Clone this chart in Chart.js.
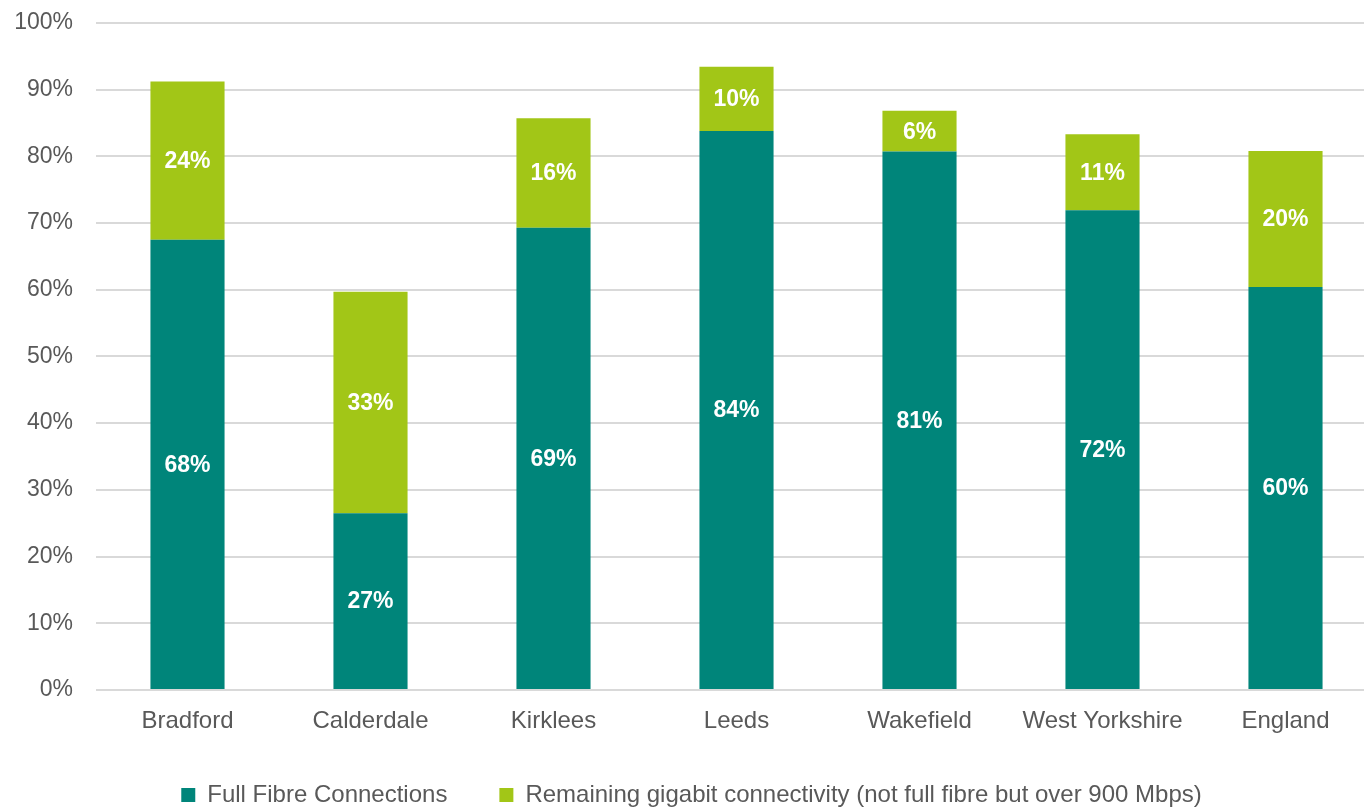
<!DOCTYPE html>
<html>
<head>
<meta charset="utf-8">
<script src="https://cdn.jsdelivr.net/npm/chart.js@4/dist/chart.umd.min.js"></script>
<style>
  html, body { margin: 0; padding: 0; background: #ffffff; overflow: hidden; }
  #wrap { position: relative; width: 1377px; height: 836px; margin-top: -14px; }
</style>
</head>
<body>
<div id="wrap"><canvas id="c"></canvas></div>
<script>
const categories = ["Bradford", "Calderdale", "Kirklees", "Leeds", "Wakefield", "West Yorkshire", "England"];
const fullFibre = [67.5, 26.5, 69.3, 83.8, 80.7, 71.9, 60.4];
const remainingGigabit = [23.7, 33.2, 16.4, 9.6, 6.1, 11.4, 20.4];
const seriesNames = ["Full Fibre Connections", "Remaining gigabit connectivity (not full fibre but over 900 Mbps)"];
const yTicks = [0, 10, 20, 30, 40, 50, 60, 70, 80, 90, 100];

const FONT = "'Liberation Sans', Arial, sans-serif";

const barLabels = {
  id: 'barLabels',
  afterDatasetsDraw(chart) {
    const ctx = chart.ctx;
    ctx.save();
    ctx.font = "bold 23px " + FONT;
    ctx.fillStyle = "#ffffff";
    ctx.textAlign = "center";
    ctx.textBaseline = "middle";
    chart.data.datasets.forEach((ds, di) => {
      const meta = chart.getDatasetMeta(di);
      meta.data.forEach((bar, i) => {
        const v = ds.data[i];
        const yMid = (bar.y + bar.base) / 2;
        ctx.fillText(Math.round(v) + "%", bar.x, yMid + 1);
      });
    });
    ctx.restore();
  }
};

const legendShift = {
  id: 'legendShift',
  afterLayout(chart) {
    const lg = chart.legend;
    if (lg) {
      const h = lg.height;
      lg.top = chart.chartArea.bottom + 41;
      lg.bottom = lg.top + h;
    }
  }
};

new Chart(document.getElementById('c'), {
  type: 'bar',
  data: {
    labels: categories,
    datasets: [
      { label: seriesNames[0], data: fullFibre, backgroundColor: '#00857A', borderWidth: 0 },
      { label: seriesNames[1], data: remainingGigabit, backgroundColor: '#A2C617', borderWidth: 0 }
    ]
  },
  options: {
    responsive: true,
    maintainAspectRatio: false,
    animation: false,
    layout: { padding: { left: 6, right: 0, top: 0, bottom: 0 } },
    datasets: { bar: { categoryPercentage: 1.0, barPercentage: 0.405 } },
    scales: {
      x: {
        stacked: true,
        grid: { display: false, drawTicks: false },
        border: { display: false },
        ticks: { color: '#595959', font: { family: FONT, size: 24 }, padding: 17, maxRotation: 0, autoSkip: false },
        afterFit(scale) { scale.height = 46; }
      },
      y: {
        stacked: true,
        min: 0,
        max: 100,
        afterBuildTicks(scale) { scale.ticks = yTicks.map(v => ({ value: v })); },
        grid: { color: '#d9d9d9', lineWidth: 2, drawTicks: false },
        border: { display: false },
        ticks: { color: '#595959', font: { family: FONT, size: 23 }, padding: 23, callback: v => v + '%' },
        afterFit(scale) { scale.width = 90; }
      }
    },
    plugins: {
      tooltip: { enabled: false },
      legend: {
        position: 'bottom',
        labels: {
          color: '#595959',
          font: { family: FONT, size: 24 },
          boxWidth: 14,
          boxHeight: 14,
          padding: 52
        }
      }
    }
  },
  plugins: [barLabels, legendShift]
});
</script>
</body>
</html>
